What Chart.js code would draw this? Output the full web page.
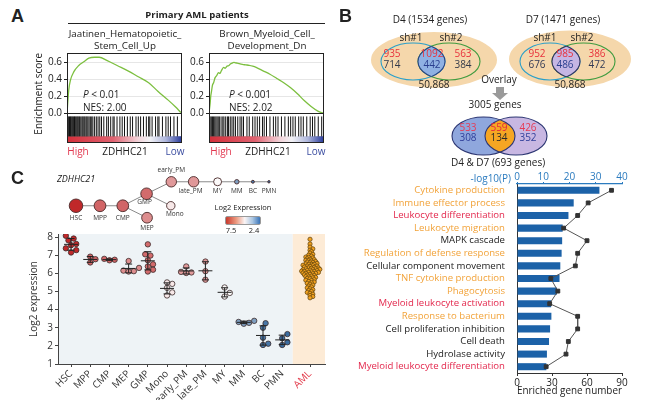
<!DOCTYPE html>
<html><head><meta charset="utf-8">
<script src="https://cdn.jsdelivr.net/npm/chart.js@4.4.1/dist/chart.umd.min.js"></script>
<style>
html,body{margin:0;padding:0;background:#fff;}
body{width:650px;height:400px;position:relative;overflow:hidden;font-family:"Open Sans",sans-serif;color:#222;}
canvas{position:absolute;}
.t{position:absolute;white-space:nowrap;line-height:1;z-index:5;}
.c{transform:translate(-50%,-50%);}
.l{transform:translateY(-50%);}
.r{transform:translate(-100%,-50%);}
.pl{font-family:"Liberation Sans",Arial,sans-serif;font-weight:bold;font-size:18px;}
</style></head><body>
<div class="t pl l" style="left:11px;top:16px">A</div>
<div class="t c" style="left:197px;top:15px;font-weight:700;font-size:9.5px">Primary AML patients</div>
<div style="position:absolute;left:68px;top:23px;width:257px;height:1px;background:#222"></div>
<div class="t c" style="left:125px;top:34px;font-size:9.8px">Jaatinen_Hematopoietic_</div>
<div class="t c" style="left:125px;top:46px;font-size:9.8px">Stem_Cell_Up</div>
<div class="t c" style="left:267px;top:34px;font-size:9.8px">Brown_Myeloid_Cell_</div>
<div class="t c" style="left:267px;top:46px;font-size:9.8px">Development_Dn</div>

<canvas id="gseaL" width="152" height="100" style="left:33px;top:48px"></canvas>
<canvas id="gseaR" width="145" height="100" style="left:183px;top:48px"></canvas>

<div class="t l" style="left:83px;top:94px;font-size:10px"><i>P</i> &lt; 0.01</div>
<div class="t l" style="left:83px;top:107px;font-size:10px">NES: 2.00</div>
<div class="t l" style="left:229px;top:94px;font-size:10px"><i>P</i> &lt; 0.001</div>
<div class="t l" style="left:229px;top:107px;font-size:10px">NES: 2.02</div>
<div class="t c" style="left:78px;top:151px;font-size:10px;color:#e2374f">High</div>
<div class="t c" style="left:125px;top:151px;font-size:10px">ZDHHC21</div>
<div class="t c" style="left:175px;top:151px;font-size:10px;color:#3b4da0">Low</div>
<div class="t c" style="left:221px;top:151px;font-size:10px;color:#e2374f">High</div>
<div class="t c" style="left:268px;top:151px;font-size:10px">ZDHHC21</div>
<div class="t c" style="left:316px;top:151px;font-size:10px;color:#3b4da0">Low</div>

<div class="t pl l" style="left:339px;top:16px">B</div>
<canvas id="venn" width="320" height="172" style="left:330px;top:0px"></canvas>
<canvas id="goBar" width="320" height="240" style="left:330px;top:160px"></canvas>
<div class="t r" style="left:511px;top:178px;font-size:10px;color:#2b7bbf">-log10(P)</div>

<div class="t pl l" style="left:11px;top:178px">C</div>
<div class="t l" style="left:57px;top:178px;font-size:9px;font-style:italic">ZDHHC21</div>
<div class="t c" style="left:243px;top:208px;font-size:7.5px">Log2 Expression</div>
<div style="position:absolute;z-index:5;left:225px;top:216px;width:34px;height:7px;border-radius:2px;border:1px solid #999;background:linear-gradient(to right,#c8382c,#ec9a80 30%,#fbf5f5 55%,#aac6e2 78%,#3a74b8)"></div>
<div class="t c" style="left:231px;top:231px;font-size:7.5px">7.5</div>
<div class="t c" style="left:254px;top:231px;font-size:7.5px">2.4</div>

<canvas id="tree" width="264" height="70" style="left:40px;top:165px"></canvas>
<canvas id="expr" width="302" height="175" style="left:28px;top:225px"></canvas>

<script>
// ================= DATA =================
// Panel A: GSEA running enrichment score (rank %, ES) and hit positions (rank %)
const esLeftX = [0,1.5,3,6,10,15,19,24,28,35,44,53,62,71,79,88,94,99];
const esLeftY = [0,0.27,0.39,0.49,0.56,0.61,0.65,0.66,0.66,0.62,0.56,0.5,0.43,0.36,0.26,0.155,0.08,0.01];
const hitsLeft = [0,0.8,1.5,2.2,3,3.6,4.3,5,5.8,6.5,7.2,8,8.8,9.5,10.3,11,12,13,13.8,14.7,15.5,16.5,17.3,18.2,19.2,20.3,21.5,22.5,24,25.5,27,28.5,30,32,34.5,36,38,40,41,43.5,46,48,50,52.5,55,57,60,62,64,66.5,69,71,72,74,77,79,80,83,86,88,90,93,96];
const esRightX = [0,1,1.5,2.2,3,4,5.3,6.5,8.3,9.5,10.7,12.7,14,15.7,17,18.6,20,21.6,23,24.6,29,32,35,38,41,47,53,59,65,71,76.9,82.8,88.8,94.7,99.4];
const esRightY = [0,0.12,0.2,0.26,0.33,0.36,0.42,0.44,0.48,0.47,0.5,0.54,0.53,0.555,0.56,0.58,0.59,0.6,0.595,0.59,0.575,0.57,0.565,0.555,0.54,0.5,0.46,0.41,0.36,0.3,0.23,0.15,0.08,0.025,0];
const hitsRight = [0,1,2,3,4,5,6,7,8,9,10.5,12,13,14.5,16,17,18.5,20,21.5,23,25,27,28.5,30,33,35,38,40,42,44,46.5,48,50,53,56,58,60,63,66,69,71,73,75,78,80,82,85,88,90,92,95,98];
const esTicks = [0,0.2,0.4,0.6];

// Panel B: Venn counts
const vennD4 = {title:'D4 (1534 genes)', up:[935,1092,563], down:[714,442,384], total:'50,868'};
const vennD7 = {title:'D7 (1471 genes)', up:[952,985,386], down:[676,486,472], total:'50,868'};
const vennBoth = {title:'D4 & D7 (693 genes)', up:[533,559,426], down:[308,134,352], total:'3005 genes'};

// Panel B: GO enrichment
const goTerms = ['Cytokine production','Immune effector process','Leukocyte differentiation','Leukocyte migration','MAPK cascade','Regulation of defense response','Cellular component movement','TNF cytokine production','Phagocytosis','Myeloid leukocyte activation','Response to bacterium','Cell proliferation inhibition','Cell death','Hydrolase activity','Myeloid leukocyte differentiation'];
const goGroup = ['immune','immune','myeloid','immune','other','immune','other','immune','immune','myeloid','immune','other','other','other','myeloid'];
const goLog10P = [31.4,21.6,19.6,17.4,17.2,17.0,16.5,16.2,15.2,13.0,13.1,12.6,12.2,11.4,11.2];
const goGeneNum = [81,61,52,40,60,52,50,29,35,28,52,52,44,42,25];
const xTopTicks = [0,10,20,30,40];
const xBottomTicks = [0,30,60,90];

// Panel C: expression per cell type
const cellTypes = ['HSC','MPP','CMP','MEP','GMP','Mono','early_PM','late_PM','MY','MM','BC','PMN','AML'];
const exprHSC = [8.07,7.92,7.82,7.62,7.55,7.38,7.28,7.15];
const exprMPP = [6.92,6.78,6.6];
const exprCMP = [6.8,6.75,6.72];
const exprMEP = [6.68,6.3,6.15,6.12,6.1];
const exprGMP = [7.6,7.05,6.98,6.72,6.5,6.38,6.2,6.1];
const exprMono = [5.5,5.42,5.2,4.95,4.78];
const exprEarlyPM = [6.38,6.08,6.05,6.02];
const exprLatePM = [6.65,6.12,5.65];
const exprMY = [5.22,4.92,4.72];
const exprMM = [3.38,3.32,3.27,3.22];
const exprBC = [3.25,3.0,2.45,2.12,2.05];
const exprPMN = [2.65,2.42,2.2,2.05];
const exprAML = [7.88,7.62,7.45,7.35,7.28,7.2,7.12,7.05,7.0,6.95,6.9,6.88,6.85,6.8,6.78,6.75,6.72,6.7,6.68,6.65,6.62,6.6,6.58,6.55,6.52,6.5,6.5,6.48,6.45,6.42,6.4,6.4,6.38,6.35,6.33,6.3,6.3,6.28,6.25,6.25,6.22,6.2,6.2,6.18,6.15,6.15,6.12,6.1,6.1,6.08,6.05,6.05,6.02,6.0,6.0,5.98,5.95,5.92,5.9,5.88,5.85,5.82,5.8,5.78,5.75,5.72,5.7,5.65,5.62,5.6,5.55,5.52,5.48,5.45,5.4,5.35,5.3,5.25,5.2,5.15,5.1,5.05,5.0,4.95,4.9,4.85,4.78,4.72,4.65];
const yTicksC = [1,2,3,4,5,6,7,8];

// ================= HELPERS / STYLE =================
Chart.defaults.font.family = '"Open Sans", sans-serif';
Chart.defaults.color = '#222';
const FONT = '"Open Sans", sans-serif';
const allExpr = [exprHSC,exprMPP,exprCMP,exprMEP,exprGMP,exprMono,exprEarlyPM,exprLatePM,exprMY,exprMM,exprBC,exprPMN,exprAML];
const catPos = [0,1,2,3,4,5,6,7,8,9,10,11,12.45];
const mean = a => a.reduce((s,v)=>s+v,0)/a.length;
const sd = a => {const m=mean(a);return Math.sqrt(a.reduce((s,v)=>s+(v-m)*(v-m),0)/(a.length-1));};
function mix(c1,c2,t){return c1.map((v,i)=>Math.round(v+(c2[i]-v)*t));}
function exprColor(v){
  let t = Math.max(0,Math.min(1,(7.5-v)/(7.5-2.4)));
  const red=[192,40,42], white=[252,250,250], blue=[58,108,160];
  const c = t<0.5 ? mix(red,white,t/0.5) : mix(white,blue,(t-0.5)/0.5);
  return `rgb(${c[0]},${c[1]},${c[2]})`;
}
const baseOpts = {responsive:false, animation:false, events:[], plugins:{legend:{display:false},tooltip:{enabled:false}}};
const noPadV = s => {s.paddingTop=0; s.paddingBottom=0;};
const noPadH = s => {s.paddingLeft=0; s.paddingRight=0;};

// ================= PANEL A =================
const gseaPlugin = {
  id:'gseaFrame',
  beforeDatasetsDraw(chart){
    const {ctx, chartArea:a, scales:{y}} = chart;
    const y1 = y.getPixelForValue(-0.27);
    const g = ctx.createLinearGradient(a.left,0,a.right,0);
    g.addColorStop(0,'#d42f3a'); g.addColorStop(0.4,'#df6270'); g.addColorStop(0.62,'#f2d4da');
    g.addColorStop(0.72,'#f2f2f6'); g.addColorStop(0.86,'#aeb6dc'); g.addColorStop(1,'#26389a');
    ctx.save(); ctx.fillStyle=g; ctx.fillRect(a.left,y1,a.width,a.bottom-y1); ctx.restore();
  },
  afterDraw(chart){
    const {ctx, chartArea:a, scales:{y}} = chart;
    ctx.save(); ctx.strokeStyle='#222'; ctx.lineWidth=1;
    ctx.strokeRect(a.left+0.5,a.top+0.5,a.width-1,a.height-1);
    const y0 = Math.round(y.getPixelForValue(0))+0.5;
    ctx.beginPath(); ctx.moveTo(a.left,y0); ctx.lineTo(a.right,y0); ctx.stroke();
    ctx.restore();
  }
};
function gsea(id, xs, ys, hits, showTitle, axisW, padR){
  return new Chart(document.getElementById(id), {
    type:'scatter',
    data:{datasets:[
      {data: xs.map((x,i)=>({x, y:ys[i]})), showLine:true, borderColor:'#7cbf3f', borderWidth:1.3, pointRadius:0, cubicInterpolationMode:'monotone', order:0},
      {data: hits.map(h=>({x:h, y:-0.155})), pointStyle:'line', pointRotation:90, pointRadius:10, pointBorderWidth:1, pointBorderColor:'#111', order:1}
    ]},
    options:{...baseOpts,
      layout:{autoPadding:false, padding:{top:5,right:padR,bottom:5,left:0}},
      scales:{
        x:{type:'linear',min:0,max:100,display:false},
        y:{type:'linear',min:-0.35,max:0.71,
           afterBuildTicks(s){s.ticks=esTicks.map(v=>({value:v}));},
           afterFit(s){s.width=axisW; noPadV(s);},
           ticks:{font:{size:10},color:'#222',padding:2,callback:v=>Number(v).toFixed(1)},
           grid:{color:'#e6e6e6',tickLength:3,tickColor:'#222'},
           border:{display:false},
           title:{display:showTitle,text:'Enrichment score',font:{size:10},padding:0,align:'end',color:'#222'}}
      }
    },
    plugins:[gseaPlugin]
  });
}
gsea('gseaL', esLeftX, esLeftY, hitsLeft, true, 34, 3);
gsea('gseaR', esRightX, esRightY, hitsRight, false, 26, 4);

// ================= PANEL B: VENN =================
const vennLayout = [
  {d:vennD4, outer:{cx:434,cy:60,rx:63,ry:28}, L:{cx:413,cy:61.5,rx:32,ry:18.5}, R:{cx:449,cy:61.5,rx:31,ry:18.5},
   lens:'#8fb1e3', lensLine:'#2a4585', numX:[392,432,463], upY:54, downY:65, sh:[[411,38],[451,38]], totalPos:[434,85], titlePos:[430,20], sideDown:'#333a4a', lensDown:'#2a3f8f'},
  {d:vennD7, outer:{cx:570,cy:59,rx:61,ry:28.5}, L:{cx:550,cy:61.5,rx:30,ry:18.5}, R:{cx:583.5,cy:61.5,rx:31.5,ry:18.5},
   lens:'#c5b6e4', lensLine:'#35355f', numX:[537,565,597], upY:54, downY:65, sh:[[545,38],[582,38]], totalPos:[570,85], titlePos:[563,20], sideDown:'#333a55', lensDown:'#2a3f8f'}
];
const vennBottom = {d:vennBoth, L:{cx:483.5,cy:136,rx:31.5,ry:19}, R:{cx:516,cy:136,rx:31,ry:19}, numX:[468,499,528], upY:128, downY:138, titlePos:[498,163], totalPos:[495,105]};
function ell(ctx,x,y,e){ctx.beginPath();ctx.ellipse(x.getPixelForValue(e.cx),y.getPixelForValue(e.cy),Math.abs(x.getPixelForValue(e.cx+e.rx)-x.getPixelForValue(e.cx)),Math.abs(y.getPixelForValue(e.cy+e.ry)-y.getPixelForValue(e.cy)),0,0,Math.PI*2);}
function txt(ctx,x,y,s,px,py,color,size,weight){ctx.fillStyle=color;ctx.font=(weight||'')+' '+(size||10)+'px '+FONT;ctx.textAlign='center';ctx.textBaseline='middle';ctx.fillText(s,x.getPixelForValue(px),y.getPixelForValue(py));}
const vennPlugin = {
  id:'venn',
  afterDraw(chart){
    const {ctx, scales:{x,y}} = chart;
    ctx.save();
    for (const v of vennLayout){
      ell(ctx,x,y,v.outer); ctx.fillStyle='#f5d7ab'; ctx.fill();
      ell(ctx,x,y,v.L); ctx.strokeStyle='#2a9fc9'; ctx.lineWidth=1.1; ctx.stroke();
      ell(ctx,x,y,v.R); ctx.strokeStyle='#3f9b3f'; ctx.stroke();
      ctx.save(); ell(ctx,x,y,v.L); ctx.clip(); ell(ctx,x,y,v.R); ctx.fillStyle=v.lens; ctx.fill(); ctx.strokeStyle=v.lensLine; ctx.stroke(); ctx.restore();
      ctx.save(); ell(ctx,x,y,v.R); ctx.clip(); ell(ctx,x,y,v.L); ctx.strokeStyle=v.lensLine; ctx.stroke(); ctx.restore();
      txt(ctx,x,y,v.d.title,v.titlePos[0],v.titlePos[1],'#222',10);
      txt(ctx,x,y,'sh#1',v.sh[0][0],v.sh[0][1],'#222',10);
      txt(ctx,x,y,'sh#2',v.sh[1][0],v.sh[1][1],'#222',10);
      v.d.up.forEach((n,i)=>txt(ctx,x,y,String(n),v.numX[i],v.upY,'#e8323c',10));
      v.d.down.forEach((n,i)=>txt(ctx,x,y,String(n),v.numX[i],v.downY,i===1?v.lensDown:v.sideDown,10));
      txt(ctx,x,y,v.d.total,v.totalPos[0],v.totalPos[1],'#222',10);
    }
    txt(ctx,x,y,'Overlay',499,80,'#222',10);
    ctx.fillStyle='#9a9a9a';
    ctx.beginPath();
    const P=(a,b)=>[x.getPixelForValue(a),y.getPixelForValue(b)];
    const pts=[P(496,87),P(504,87),P(504,93),P(508,93),P(500,100),P(492,93),P(496,93)];
    ctx.moveTo(...pts[0]); pts.slice(1).forEach(p=>ctx.lineTo(...p)); ctx.closePath(); ctx.fill();
    const b = vennBottom;
    txt(ctx,x,y,b.d.total,b.totalPos[0],b.totalPos[1],'#222',10);
    ell(ctx,x,y,b.L); ctx.fillStyle='#8fa7dd'; ctx.fill();
    ell(ctx,x,y,b.R); ctx.fillStyle='#c8b7e2'; ctx.fill();
    ctx.save(); ell(ctx,x,y,b.L); ctx.clip(); ell(ctx,x,y,b.R); ctx.fillStyle='#f6a623'; ctx.fill(); ctx.restore();
    ctx.strokeStyle='#2b3572'; ctx.lineWidth=1.1;
    ell(ctx,x,y,b.L); ctx.stroke(); ell(ctx,x,y,b.R); ctx.stroke();
    b.d.up.forEach((n,i)=>txt(ctx,x,y,String(n),b.numX[i],b.upY,i===1?'#e2283c':'#e63a55',10));
    b.d.down.forEach((n,i)=>txt(ctx,x,y,String(n),b.numX[i],b.downY,i===1?'#2a2a2a':'#2f3f9a',10));
    txt(ctx,x,y,b.d.title,b.titlePos[0],b.titlePos[1],'#222',10);
    ctx.restore();
  }
};
new Chart(document.getElementById('venn'), {
  type:'scatter', data:{datasets:[]},
  options:{...baseOpts, layout:{autoPadding:false, padding:0},
    scales:{x:{type:'linear',min:330,max:650,display:false}, y:{type:'linear',min:0,max:172,reverse:true,display:false}}},
  plugins:[vennPlugin]
});

// ================= PANEL B: GO BARS =================
const termColors = {immune:'#f2a33a', myeloid:'#e3284d', other:'#222'};
new Chart(document.getElementById('goBar'), {
  type:'bar',
  data:{labels:goTerms, datasets:[
    {type:'line', indexAxis:'y', data:goGeneNum, xAxisID:'xg', yAxisID:'y', borderColor:'#555', borderWidth:1,
     pointStyle:'rect', pointRadius:2.7, pointBackgroundColor:'#333', pointBorderColor:'#333', order:0},
    {type:'bar', data:goLog10P, xAxisID:'xp', yAxisID:'y', backgroundColor:'#1c62a8', barPercentage:0.56, categoryPercentage:1, order:1}
  ]},
  options:{...baseOpts, indexAxis:'y',
    layout:{autoPadding:false, padding:{top:0,right:28,bottom:0,left:0}},
    scales:{
      y:{type:'category', afterFit(s){s.width=187; noPadV(s);}, grid:{display:false}, border:{display:true,color:'#333',width:1},
         ticks:{autoSkip:false,font:{size:9.6},padding:4,color:c=>termColors[goGroup[c.index]]}},
      xp:{type:'linear', position:'top', min:0, max:40, afterFit(s){s.height=24; noPadH(s);},
          afterBuildTicks(s){s.ticks=xTopTicks.map(v=>({value:v}));},
          ticks:{color:'#2b7bbf',font:{size:10},padding:-1},
          grid:{drawOnChartArea:false,tickLength:2,tickColor:'#2b7bbf'}, border:{color:'#2b7bbf',width:1.2}},
      xg:{type:'linear', position:'bottom', min:0, max:90, afterFit(s){s.height=27; noPadH(s);},
          afterBuildTicks(s){s.ticks=xBottomTicks.map(v=>({value:v}));},
          ticks:{font:{size:10},padding:1,color:'#222'},
          grid:{drawOnChartArea:false,tickLength:3,tickColor:'#333'}, border:{color:'#333'},
          title:{display:true,text:'Enriched gene number',font:{size:10},padding:{top:0,bottom:3},color:'#222'}}
    }
  }
});

// ================= PANEL C: TREE =================
const treeX = [0,1,1.95,2.96,2.94,3.95,3.97,4.9,5.9,6.7,7.37,8.04];
const treeY = [0,0,0,-0.5,0.5,0,1,1,1,1,1,1];
const treeEdges = [['HSC','MPP'],['MPP','CMP'],['CMP','GMP'],['CMP','MEP'],['GMP','early_PM'],['GMP','Mono'],['early_PM','late_PM'],['late_PM','MY'],['MY','MM'],['MM','BC'],['BC','PMN']];
const treeLabelOffset = [[0,12],[0,12],[0,12],[0,10],[-2,8.5],[4,8.5],[0,-11.5],[-3,9],[0,9],[0,9],[0,9],[0,9]];
const groupMeans = allExpr.map(mean);
const treeIdx = n => cellTypes.indexOf(n);
const treeRadius = groupMeans.slice(0,12).map(m=>1.2+(m-2.3)*1.05);
const treeLabels = {
  id:'treeLabels',
  afterDatasetsDraw(chart){
    const {ctx, scales:{x,y}} = chart;
    ctx.save(); ctx.fillStyle='#333'; ctx.font='6.5px '+FONT; ctx.textAlign='center'; ctx.textBaseline='middle';
    for (let i=0;i<12;i++){
      ctx.fillText(cellTypes[i], x.getPixelForValue(treeX[i])+treeLabelOffset[i][0], y.getPixelForValue(treeY[i])+treeLabelOffset[i][1]);
    }
    ctx.restore();
  }
};
new Chart(document.getElementById('tree'), {
  type:'scatter',
  data:{datasets:[
    ...treeEdges.map(e=>({data:e.map(n=>({x:treeX[treeIdx(n)], y:treeY[treeIdx(n)]})), showLine:true, borderColor:'#8a8a8a', borderWidth:1, pointRadius:0, order:2})),
    {data:treeX.map((v,i)=>({x:v,y:treeY[i]})), pointRadius:c=>treeRadius[c.dataIndex],
     pointBackgroundColor:c=>exprColor(groupMeans[c.dataIndex]), pointBorderColor:'#4a2a2a', pointBorderWidth:0.9, order:0}
  ]},
  options:{...baseOpts, layout:{autoPadding:false, padding:0},
    scales:{x:{type:'linear',min:-1.5,max:9.5,display:false}, y:{type:'linear',min:-1.22,max:1.7,display:false}}},
  plugins:[treeLabels]
});

// ================= PANEL C: SCATTER =================
const PXX = 19.2, PXY = 18.13;
function swarm(vals, center, diam, minDist){
  const placed=[], out=new Array(vals.length);
  const order = vals.map((v,i)=>i).sort((a,b)=>vals[a]-vals[b]);
  for (const i of order){
    const yp = vals[i]*PXY; let off = 0;
    for (let k=0;k<60;k++){
      const o = (k%2?1:-1)*Math.ceil(k/2)*diam*0.5;
      if (placed.every(p=>Math.hypot(p.x-o,p.y-yp)>=minDist)){off=o;break;}
    }
    placed.push({x:off,y:yp});
    out[i] = {x:center+off/PXX, y:vals[i]};
  }
  return out;
}
const scatterSets = allExpr.map((vals,gi)=>{
  const isAML = gi===12;
  return {
    data: isAML ? swarm(vals, catPos[gi], 2.8, 1.9) : swarm(vals, catPos[gi], 5.2, 5.0),
    pointRadius: isAML ? 2.1 : 2.7,
    pointBackgroundColor: isAML ? '#f4a21f' : exprColor(groupMeans[gi]),
    pointBorderColor: isAML ? '#6a4a10' : '#3a2a2a',
    pointBorderWidth: 0.8
  };
});
const bands = {
  id:'bands',
  beforeDraw(chart){
    const {ctx, chartArea:a, scales:{x}} = chart;
    const xs = x.getPixelForValue(11.55);
    ctx.save();
    ctx.fillStyle='#eef3f6'; ctx.fillRect(a.left,a.top,xs-a.left,a.height);
    ctx.fillStyle='#fdebd6'; ctx.fillRect(xs,a.top,a.right-xs,a.height);
    ctx.restore();
  }
};
const errBars = {
  id:'errBars',
  afterDatasetsDraw(chart){
    const {ctx, scales:{x,y}} = chart;
    ctx.save(); ctx.strokeStyle='#222'; ctx.lineWidth=1;
    for (let gi=0; gi<12; gi++){
      const m=mean(allExpr[gi]), s=sd(allExpr[gi]);
      const cx=x.getPixelForValue(catPos[gi]);
      const ym=y.getPixelForValue(m), yt=y.getPixelForValue(m+s), yb=y.getPixelForValue(m-s);
      ctx.beginPath();
      ctx.moveTo(cx-7,ym); ctx.lineTo(cx+7,ym);
      ctx.moveTo(cx,yt); ctx.lineTo(cx,yb);
      ctx.moveTo(cx-3.5,yt); ctx.lineTo(cx+3.5,yt);
      ctx.moveTo(cx-3.5,yb); ctx.lineTo(cx+3.5,yb);
      ctx.stroke();
    }
    ctx.restore();
  }
};
new Chart(document.getElementById('expr'), {
  type:'scatter',
  data:{datasets:scatterSets},
  options:{...baseOpts,
    layout:{autoPadding:false, padding:{top:9,right:5,bottom:0,left:0}},
    scales:{
      x:{type:'linear',min:-0.68,max:13.23, afterFit(s){s.height=36; noPadH(s);},
         afterBuildTicks(s){s.ticks=catPos.map(v=>({value:v}));},
         ticks:{autoSkip:false,minRotation:45,maxRotation:45,font:{size:10},padding:1,
                callback:(v,i)=>cellTypes[i], color:c=>c.index===12?'#e23a4a':'#333'},
         grid:{drawOnChartArea:false,tickLength:3,tickColor:'#444'}, border:{color:'#444'}},
      y:{type:'linear',min:1,max:8.17, afterFit(s){s.width=30; noPadV(s);},
         afterBuildTicks(s){s.ticks=yTicksC.map(v=>({value:v}));},
         ticks:{font:{size:10},padding:2,color:'#333'},
         grid:{drawOnChartArea:false,tickLength:3,tickColor:'#444'}, border:{color:'#444'},
         title:{display:true,text:'Log2 expression',font:{size:10},padding:0,color:'#333'}}
    }
  },
  plugins:[bands, errBars]
});
</script>
</body></html>
